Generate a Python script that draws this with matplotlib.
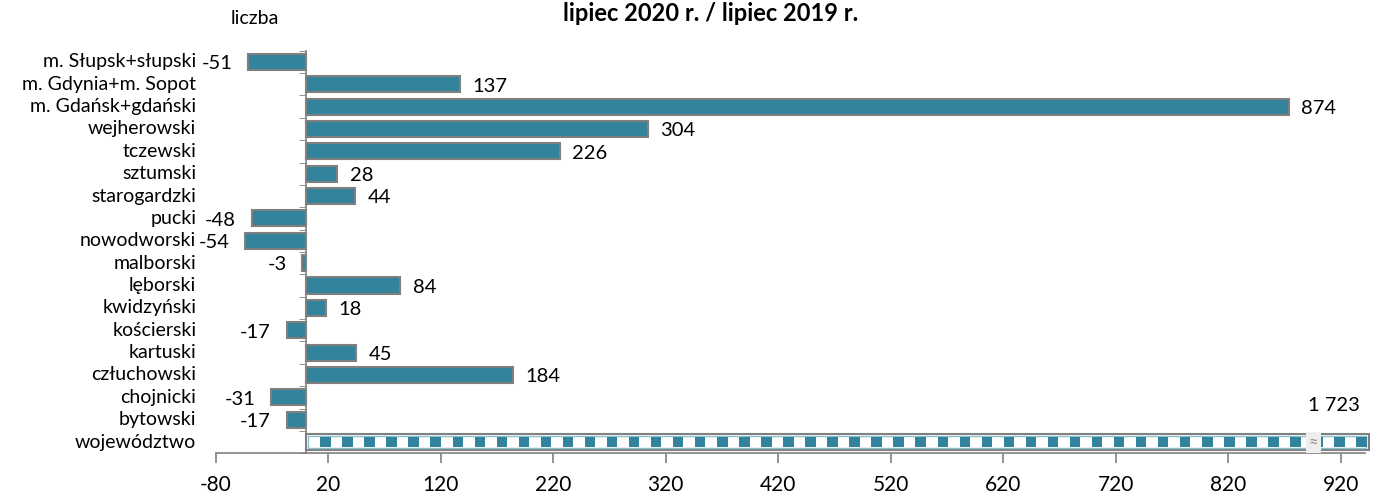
import numpy as np
import matplotlib.pyplot as plt
from matplotlib.patches import Rectangle

plt.rcParams['font.family'] = ['Lato', 'DejaVu Sans']

categories = ['m. Słupsk+słupski', 'm. Gdynia+m. Sopot', 'm. Gdańsk+gdański',
              'wejherowski', 'tczewski', 'sztumski', 'starogardzki', 'pucki',
              'nowodworski', 'malborski', 'lęborski', 'kwidzyński', 'kościerski',
              'kartuski', 'człuchowski', 'chojnicki', 'bytowski']
values = [-51, 137, 874, 304, 226, 28, 44, -48, -54, -3, 84, 18, -17, 45, 184, -31, -17]
total_label = 'województwo'
total_value = 1723
x_ticks = list(range(-80, 921, 100))

teal = '#31849B'
edge = '#808080'

fig = plt.figure(figsize=(13.75, 4.97), dpi=100)
ax = fig.add_axes([0.157, 0.088, 0.836, 0.81])

xmax = 942
n = len(categories)
ypos = np.arange(n, 0, -1)  # top to bottom, województwo at 0
ax.barh(ypos, values, height=0.72, color=teal, edgecolor=edge, linewidth=1.5, zorder=3)

# value labels
for y, v in zip(ypos, values):
    if v >= 0:
        ax.text(v + 11, y - 0.08, str(v), ha='left', va='center', fontsize=14.5)
    else:
        ax.text(v - 14, y - 0.08, str(v), ha='right', va='center', fontsize=14.5)

# województwo bar (broken, exceeds scale) with checkered fill
bar_end = xmax + 3
ax.add_patch(Rectangle((0, -0.36), bar_end, 0.72, facecolor='white', edgecolor=edge,
                       linewidth=1.5, clip_on=False, zorder=3))
ax.add_patch(Rectangle((2, -0.26), bar_end - 4, 0.52, facecolor='white', edgecolor='#8cc0cf',
                       linewidth=1, clip_on=False, zorder=3))
step = 19.6
for i, x0 in enumerate(np.arange(3, bar_end - 8, step / 2)):
    if i % 2 == 1:
        ax.add_patch(Rectangle((x0, -0.22), step / 2 - 0.5, 0.44, facecolor=teal,
                               edgecolor='none', clip_on=False, zorder=4))
ax.text(896, 0, '\u2248', ha='center', va='center', fontsize=12, color='#909090', zorder=6,
        bbox=dict(boxstyle='square,pad=0.15', facecolor='#eeeeee', edgecolor='none'))
ax.text(914, 1.65, '1 723', ha='center', va='center', fontsize=14.5)

# category labels
all_y = list(ypos) + [0]
all_labels = categories + [total_label]
for y, lab in zip(all_y, all_labels):
    ax.text(-0.017, y, lab, transform=ax.get_yaxis_transform(), ha='right', va='center',
            fontsize=14)

ax.set_xlim(-80, xmax)
ax.set_ylim(-0.45, n + 0.45)
ax.set_xticks(x_ticks)
ax.set_xticklabels([str(t) for t in x_ticks], fontsize=15)
ax.set_yticks([])
ax.set_yticks(np.arange(-0.5, n + 0.6, 1), minor=True)
ax.tick_params(axis='y', which='minor', length=5, color=edge, direction='out', labelleft=False)
ax.tick_params(axis='x', length=7, color=edge, width=1.2, pad=9)

for s in ['top', 'right']:
    ax.spines[s].set_visible(False)
ax.spines['left'].set_position(('data', 0))
ax.spines['left'].set_color(edge)
ax.spines['bottom'].set_color(edge)
ax.spines['left'].set_linewidth(1.2)
ax.spines['bottom'].set_linewidth(1.2)

fig.text(0.185, 0.963, 'liczba', ha='center', va='center', fontsize=14)
fig.text(0.517, 0.972, 'lipiec 2020 r. / lipiec 2019 r.', ha='center', va='center',
         fontsize=17, fontweight='bold')

fig.savefig('out.png', dpi=100)
